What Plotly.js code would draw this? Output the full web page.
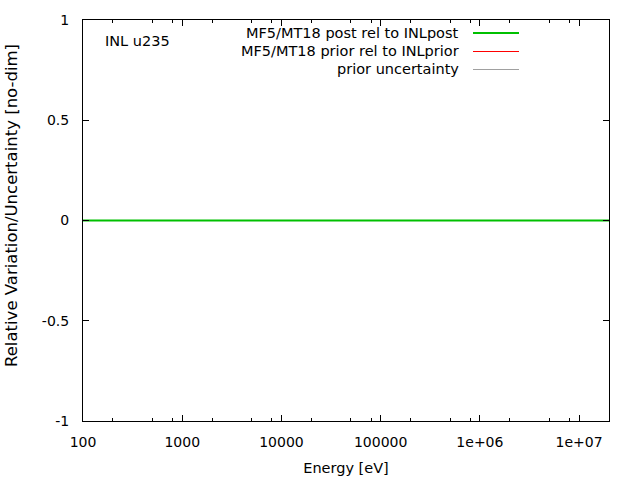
<!DOCTYPE html>
<html>
<head>
<meta charset="utf-8">
<script src="https://cdn.plot.ly/plotly-3.0.1.min.js"></script>
<style>
  html, body { margin: 0; padding: 0; background: #fff; }
  #plot { width: 640px; height: 480px; }
</style>
</head>
<body>
<div id="plot"></div>
<script>
// energies and relative values (all flat at zero)
var energy = [100, 1000, 10000, 100000, 1e6, 1e7, 2e7];
var postRel = [0, 0, 0, 0, 0, 0, 0];
var priorRel = [0, 0, 0, 0, 0, 0, 0];
var priorUnc = [0, 0, 0, 0, 0, 0, 0];

var seriesNames = ['MF5/MT18 post rel to INLpost', 'MF5/MT18 prior rel to INLprior', 'prior uncertainty'];
var seriesColors = ['#00c000', '#ff0000', '#a0a0a0'];
var seriesWidths = [2, 1, 1];

var xTickVals = [100, 1000, 10000, 100000, 1e6, 1e7];
var xTickText = ['100', '1000', '10000', '100000', '1e+06', '1e+07'];
var xMinorVals = [200, 500, 800, 2000, 5000, 8000, 20000, 50000, 80000,
                  2e5, 5e5, 8e5, 2e6, 5e6, 8e6];
var yTickVals = [-1, -0.5, 0, 0.5, 1];
var yTickText = ['-1', '-0.5', '0', '0.5', '1'];

var font = 'DejaVu Sans, sans-serif';

// plot box in pixels, used to place the key and labels
var L = 83, R = 609, T = 20, B = 421;
function px(x) { return (x - L) / (R - L); }
function py(y) { return (B - y) / (B - T); }

// grey first, then red, green on top
var order = [2, 1, 0];
var ys = [postRel, priorRel, priorUnc];
var data = order.map(function (k) {
    return {
        x: energy,
        y: ys[k],
        mode: 'lines',
        type: 'scatter',
        name: seriesNames[k],
        line: {color: seriesColors[k], width: seriesWidths[k]},
        showlegend: false,
        hoverinfo: 'skip'
    };
});

// gnuplot-style key: text right-aligned, sample line to the right
var annotations = [{
    text: 'INL u235', xref: 'paper', yref: 'paper',
    x: px(103), y: py(41), xanchor: 'left', yanchor: 'middle',
    showarrow: false, font: {family: font, size: 14.5, color: '#000'}
}, {
    text: 'Relative Variation/Uncertainty [no-dim]', xref: 'paper', yref: 'paper',
    x: px(11), y: py(206), xanchor: 'center', yanchor: 'middle', textangle: -90,
    showarrow: false, font: {family: font, size: 16.5, color: '#000'}
}];
var shapes = [];
var rowY = [33, 51, 69];
for (var i = 0; i < seriesNames.length; i++) {
    annotations.push({
        text: seriesNames[i], xref: 'paper', yref: 'paper',
        x: px(461), y: py(rowY[i]),
        xanchor: 'right', yanchor: 'middle', showarrow: false,
        font: {family: font, size: 14.5, color: '#000'}
    });
    var ly = seriesWidths[i] === 1 ? rowY[i] + 0.5 : rowY[i];
    shapes.push({
        type: 'line', xref: 'paper', yref: 'paper',
        x0: px(473), x1: px(519),
        y0: py(ly), y1: py(ly),
        line: {color: seriesColors[i], width: seriesWidths[i]}
    });
}

var layout = {
    width: 640,
    height: 480,
    margin: {l: L, r: 640 - R, t: T, b: 480 - B},
    paper_bgcolor: '#fff',
    plot_bgcolor: '#fff',
    font: {family: font, size: 14, color: '#000'},
    showlegend: false,
    xaxis: {
        type: 'log',
        range: [2, Math.log10(2e7)],
        tickmode: 'array',
        tickvals: xTickVals,
        ticktext: xTickText,
        ticks: 'inside',
        ticklen: 6,
        tickwidth: 1,
        tickcolor: '#000',
        showline: true,
        linecolor: '#000',
        linewidth: 1,
        mirror: 'allticks',
        showgrid: false,
        zeroline: false,
        ticklabelstandoff: 8,
        minor: {tickmode: 'array', tickvals: xMinorVals, ticks: 'inside', ticklen: 3, tickcolor: '#000', showgrid: false},
        title: {text: 'Energy [eV]', font: {family: font, size: 14.5}, standoff: 14}
    },
    yaxis: {
        range: [-1, 1],
        tickmode: 'array',
        tickvals: yTickVals,
        ticktext: yTickText,
        ticks: 'inside',
        ticklen: 6,
        tickwidth: 1,
        tickcolor: '#000',
        showline: true,
        linecolor: '#000',
        linewidth: 1,
        mirror: 'allticks',
        showgrid: false,
        zeroline: false,
        ticklabelstandoff: 10
    },
    annotations: annotations,
    shapes: shapes
};

Plotly.newPlot('plot', data, layout, {staticPlot: true, displayModeBar: false});
</script>
</body>
</html>
